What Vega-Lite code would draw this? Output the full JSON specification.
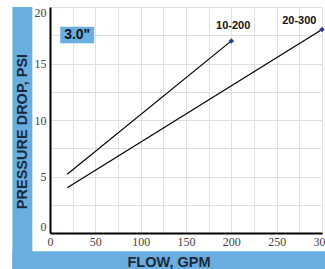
{
  "$schema": "https://vega.github.io/schema/vega-lite/v6.json",
  "width": 272,
  "height": 226,
  "autosize": {"type": "none"},
  "padding": {"left": 50, "top": 7, "right": 3, "bottom": 36},
  "background": "white",
  "config": {"view": {"stroke": null}},
  "resolve": {"axis": {"x": "independent", "y": "independent"}},
  "datasets": {
    "lines": [
      {"series": "10-200", "flow": 19, "psi": 5.2},
      {"series": "10-200", "flow": 200, "psi": 17},
      {"series": "20-300", "flow": 19, "psi": 4.0},
      {"series": "20-300", "flow": 300, "psi": 18}
    ],
    "ends": [
      {"series": "10-200", "flow": 200, "psi": 17, "lx": 202, "ly": 18.3},
      {"series": "20-300", "flow": 300, "psi": 18, "lx": 275, "ly": 18.75}
    ],
    "size": [{"label": "3.0\"", "x1": 11.3, "x2": 48.8, "y1": 16.8, "y2": 18.26, "xm": 30, "ym": 17.5}],
    "blank": [{}]
  },
  "layer": [
    {
      "data": {"name": "lines"},
      "mark": {"type": "line", "color": "black", "strokeWidth": 1.2},
      "encoding": {
        "x": {
          "field": "flow", "type": "quantitative",
          "scale": {"domain": [0, 300], "nice": false},
          "axis": {
            "orient": "bottom",
            "values": [0, 25, 50, 75, 100, 125, 150, 175, 200, 225, 250, 275, 300],
            "grid": true, "labels": false, "ticks": false, "domain": false, "title": null,
            "gridColor": "#e0e0e0", "gridWidth": 1, "zindex": 0
          }
        },
        "y": {
          "field": "psi", "type": "quantitative",
          "scale": {"domain": [0, 20], "nice": false},
          "axis": {
            "orient": "left",
            "values": [0, 2.5, 5, 7.5, 10, 12.5, 15, 17.5, 20],
            "grid": true, "labels": false, "ticks": false, "domain": false, "title": null,
            "gridColor": "#e0e0e0", "gridWidth": 1, "zindex": 0
          }
        },
        "detail": {"field": "series"}
      }
    },
    {
      "data": {"name": "blank"},
      "mark": {"type": "rect", "color": "#6aaee0", "clip": false},
      "encoding": {
        "x": {"datum": -41.5, "type": "quantitative", "axis": null},
        "x2": {"datum": -19.5},
        "y": {"datum": 20, "type": "quantitative", "axis": null},
        "y2": {"datum": -3.3}
      }
    },
    {
      "data": {"name": "blank"},
      "mark": {"type": "rect", "color": "#6aaee0", "clip": false},
      "encoding": {
        "x": {"datum": -41.5, "type": "quantitative", "axis": null},
        "x2": {"datum": 305},
        "y": {"datum": -1.62, "type": "quantitative", "axis": null},
        "y2": {"datum": -3.3}
      }
    },
    {
      "data": {"name": "size"},
      "mark": {"type": "rect", "color": "#6aaee0"},
      "encoding": {
        "x": {"field": "x1", "type": "quantitative", "axis": null},
        "x2": {"field": "x2"},
        "y": {"field": "y1", "type": "quantitative", "axis": null},
        "y2": {"field": "y2"}
      }
    },
    {
      "data": {"name": "size"},
      "mark": {"type": "text", "font": "Liberation Sans", "fontWeight": "bold", "fontSize": 14, "color": "#111111", "baseline": "middle"},
      "encoding": {
        "x": {"field": "xm", "type": "quantitative", "axis": null},
        "y": {"field": "ym", "type": "quantitative", "axis": null},
        "text": {"field": "label"}
      }
    },
    {
      "data": {"name": "ends"},
      "mark": {"type": "point", "shape": "diamond", "filled": true, "color": "#2e3a9e", "size": 30, "opacity": 1, "clip": false},
      "encoding": {
        "x": {
          "field": "flow", "type": "quantitative",
          "axis": {
            "orient": "bottom",
            "values": [0, 50, 100, 150, 200, 250, 300],
            "grid": false, "ticks": false,
            "zindex": 1,
            "domainColor": "black", "domainWidth": 2,
            "labelFont": "Liberation Sans Narrow", "labelFontSize": 12, "labelColor": "#444444",
            "labelPadding": 3, "labelFlush": false,
            "title": "FLOW, GPM",
            "titleFont": "Liberation Sans", "titleFontWeight": "bold", "titleFontSize": 14.5,
            "titleColor": "#1c2838", "titleX": 118.5, "titleY": 33, "titleBaseline": "alphabetic"
          }
        },
        "y": {
          "field": "psi", "type": "quantitative",
          "axis": {
            "orient": "left",
            "values": [0, 5, 10, 15, 20],
            "grid": false, "ticks": false,
            "zindex": 1,
            "domainColor": "black", "domainWidth": 2,
            "labelFont": "Liberation Sans Narrow", "labelFontSize": 12, "labelColor": "#444444",
            "labelPadding": 4, "labelFlush": true,
            "title": "PRESSURE DROP, PSI",
            "titleFont": "Liberation Sans", "titleFontWeight": "bold", "titleFontSize": 14.5,
            "titleColor": "#1c2838", "titleX": -24, "titleY": 124, "titleBaseline": "alphabetic", "titleAngle": -90
          }
        }
      }
    },
    {
      "data": {"name": "ends"},
      "mark": {"type": "text", "font": "Liberation Sans", "fontWeight": "bold", "fontSize": 11, "color": "#111111", "baseline": "middle"},
      "encoding": {
        "x": {"field": "lx", "type": "quantitative", "axis": null},
        "y": {"field": "ly", "type": "quantitative", "axis": null},
        "text": {"field": "series"}
      }
    }
  ]
}
